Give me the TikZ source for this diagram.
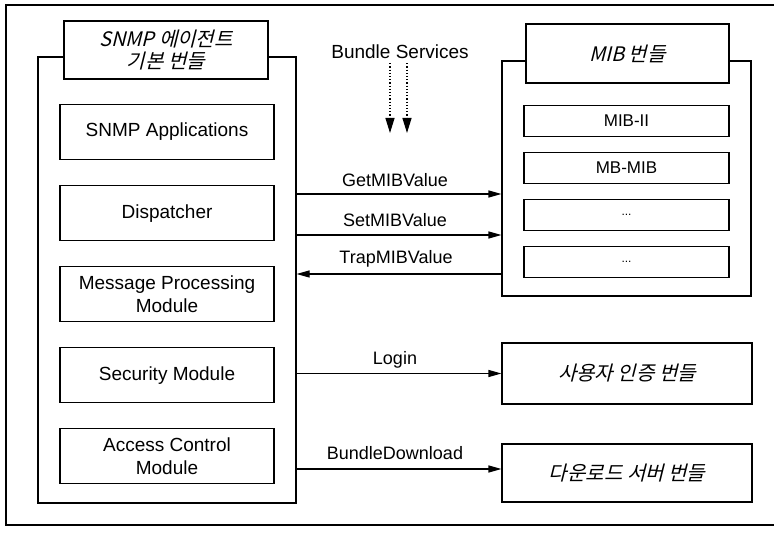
\documentclass[tikz,border=0pt]{standalone}
\usepackage{fontspec}
\setmainfont{Liberation Sans}
\newfontfamily\krfont[FakeSlant=0.25]{Noto Sans CJK KR}
\usetikzlibrary{positioning,arrows.meta}

\begin{document}
\begin{tikzpicture}[
    x=1pt, y=1pt,
    node distance = 25pt,
    cont/.style = {rectangle, draw=black, line width=1.1pt, fill=white, inner sep=0pt},
    title/.style = {cont, align=center, font=\krfont\fontsize{20}{22}\selectfont},
    module/.style = {cont, minimum width=214pt, minimum height=55pt, align=center,
                     font=\fontsize{19}{23}\selectfont},
    mibbox/.style = {cont, minimum width=205pt, minimum height=31pt,
                     font=\fontsize{17}{20}\selectfont},
    bundle/.style = {cont, minimum width=250pt, align=center,
                     font=\krfont\fontsize{20}{23}\selectfont},
    msg/.style = {font=\fontsize{18}{22}\selectfont, inner sep=0pt},
    >={Triangle[length=13pt,width=7pt]},
    link/.style = {->, line width=1.1pt}
]
\useasboundingbox (0,0) rectangle (774,536);

% --- outer frame (right side runs off the page) ---
\draw[line width=1.2pt] (790,531) -- (6,531) -- (6,11) -- (790,11);

% --- SNMP agent bundle ---
\node[cont, minimum width=258pt, minimum height=446pt] (agent) at (167,256) {};
\node[title, minimum width=204pt, minimum height=58pt] (agenttitle) at (166,486)
    {SNMP 에이전트\\기본 번들};
\node[module] (apps) at (167,404) {SNMP Applications};
\node[module, below=of apps] (disp) {Dispatcher};
\node[module, below=of disp] (mpm) {Message Processing\\Module};
\node[module, below=of mpm] (sec) {Security Module};
\node[module, below=of sec] (acm) {Access Control\\Module};

% --- MIB bundle ---
\node[cont, minimum width=249pt, minimum height=235pt] (mib) at (626.5,357.5) {};
\node[title, minimum width=203pt, minimum height=59pt] (mibtitle) at (627.5,482.5) {MIB 번들};
\node[mibbox] (mib2) at (626.5,415) {MIB-II};
\node[mibbox, below=15pt of mib2] (mbmib) {MB-MIB};
\node[mibbox, below=15pt of mbmib, font=\fontsize{12}{14}\selectfont] (mibx) {...};
\node[mibbox, below=15pt of mibx, font=\fontsize{12}{14}\selectfont] (miby) {...};

% --- other bundles ---
\node[bundle, minimum height=61pt] (auth) at (627,162.5) {사용자 인증 번들};
\node[bundle, minimum height=58pt] (dl) at (627,63) {다운로드 서버 번들};

% --- bundle services ---
\node[msg, font=\fontsize{19}{23}\selectfont] (bs) at (400,484) {Bundle Services};
\coordinate (svcA) at (390,403);
\coordinate (svcB) at (407,403);
\draw[dotted, line width=1.2pt, -{Triangle[length=15pt,width=9pt]}] (bs.south -| svcA) ++(0,-4) -- (svcA);
\draw[dotted, line width=1.2pt, -{Triangle[length=15pt,width=9pt]}] (bs.south -| svcB) ++(0,-4) -- (svcB);

% --- messages between bundles ---
\node[msg] (get) at (395,356) {GetMIBValue};
\node[msg] (set) at (395,316) {SetMIBValue};
\node[msg] (trap) at (396,277) {TrapMIBValue};
\node[msg] (login) at (395,176) {Login};
\node[msg] (bdl) at (395,83) {BundleDownload};

\draw[link] (agent.east |- 0,342) -- (mib.west |- 0,342);
\draw[link] (agent.east |- 0,301) -- (mib.west |- 0,301);
\draw[link] (mib.west |- 0,262) -- (agent.east |- 0,262);
\draw[link] (agent.east |- auth.west) -- (auth.west);
\draw[link] (agent.east |- 0,67) -- (dl.west |- 0,67);

\end{tikzpicture}
\end{document}
